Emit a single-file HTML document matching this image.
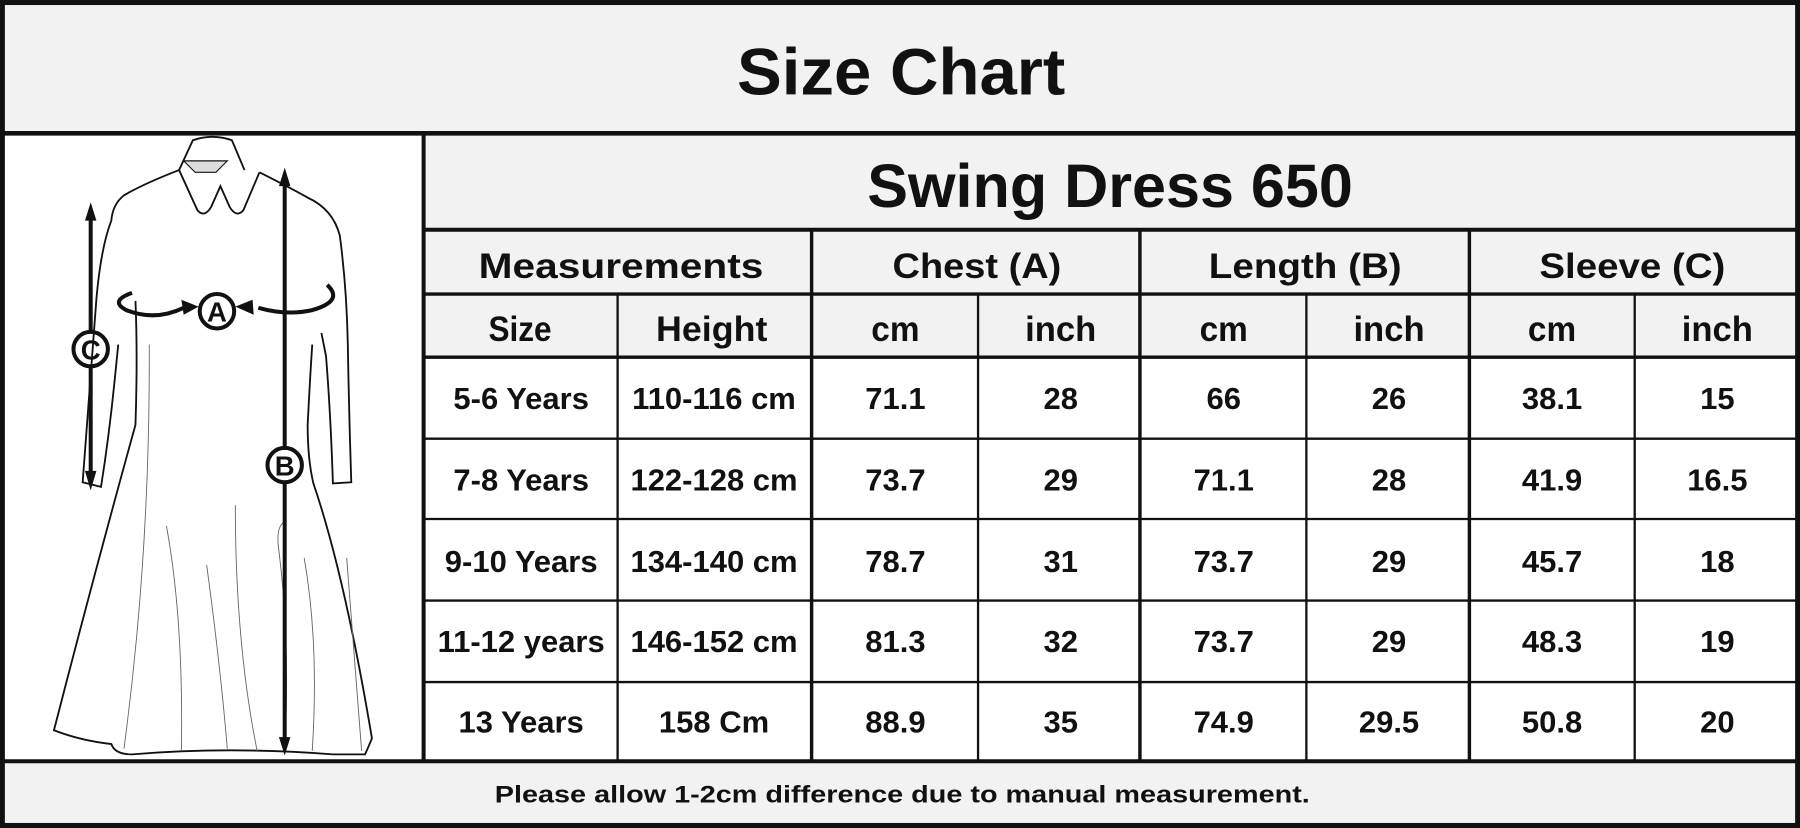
<!DOCTYPE html>
<html><head><meta charset="utf-8"><style>
html,body{margin:0;padding:0;background:#fff}
svg{display:block}
text{font-family:"Liberation Sans",Arial,sans-serif;font-weight:bold;fill:#111}
</style></head><body>
<svg width="1800" height="828" viewBox="0 0 1568 721" xmlns="http://www.w3.org/2000/svg">
<rect x="0" y="0" width="1568" height="721" fill="#fff"/>
<rect x="2" y="2" width="1564" height="114" fill="#f2f2f2"/>
<rect x="369" y="116" width="1197" height="195" fill="#f2f2f2"/>
<rect x="2" y="663" width="1564" height="56" fill="#f2f2f2"/>
<text x="785" y="82" font-size="57" text-anchor="middle" textLength="286" lengthAdjust="spacingAndGlyphs">Size Chart</text>
<text x="967" y="180" font-size="53" text-anchor="middle" textLength="423" lengthAdjust="spacingAndGlyphs">Swing Dress 650</text>
<g font-size="31" text-anchor="middle">
<text x="541" y="242" textLength="248" lengthAdjust="spacingAndGlyphs">Measurements</text>
<text x="851" y="242" textLength="147" lengthAdjust="spacingAndGlyphs">Chest (A)</text>
<text x="1137" y="242" textLength="168" lengthAdjust="spacingAndGlyphs">Length (B)</text>
<text x="1422" y="242" textLength="162" lengthAdjust="spacingAndGlyphs">Sleeve (C)</text>
<text x="453" y="297" textLength="55" lengthAdjust="spacingAndGlyphs">Size</text>
<text x="620" y="297" textLength="97" lengthAdjust="spacingAndGlyphs">Height</text>
<text x="780" y="297" textLength="42" lengthAdjust="spacingAndGlyphs">cm</text>
<text x="924" y="297" textLength="62" lengthAdjust="spacingAndGlyphs">inch</text>
<text x="1066" y="297" textLength="42" lengthAdjust="spacingAndGlyphs">cm</text>
<text x="1210" y="297" textLength="62" lengthAdjust="spacingAndGlyphs">inch</text>
<text x="1352" y="297" textLength="42" lengthAdjust="spacingAndGlyphs">cm</text>
<text x="1496" y="297" textLength="62" lengthAdjust="spacingAndGlyphs">inch</text>
</g>
<g font-size="27" text-anchor="middle">
<g transform="translate(0,356)"><text x="454">5-6 Years</text><text x="622">110-116 cm</text><text x="780">71.1</text><text x="924">28</text><text x="1066">66</text><text x="1210">26</text><text x="1352">38.1</text><text x="1496">15</text></g>
<g transform="translate(0,427)"><text x="454">7-8 Years</text><text x="622">122-128 cm</text><text x="780">73.7</text><text x="924">29</text><text x="1066">71.1</text><text x="1210">28</text><text x="1352">41.9</text><text x="1496">16.5</text></g>
<g transform="translate(0,498)"><text x="454">9-10 Years</text><text x="622">134-140 cm</text><text x="780">78.7</text><text x="924">31</text><text x="1066">73.7</text><text x="1210">29</text><text x="1352">45.7</text><text x="1496">18</text></g>
<g transform="translate(0,568)"><text x="454">11-12 years</text><text x="622">146-152 cm</text><text x="780">81.3</text><text x="924">32</text><text x="1066">73.7</text><text x="1210">29</text><text x="1352">48.3</text><text x="1496">19</text></g>
<g transform="translate(0,638)"><text x="454">13 Years</text><text x="622">158 Cm</text><text x="780">88.9</text><text x="924">35</text><text x="1066">74.9</text><text x="1210">29.5</text><text x="1352">50.8</text><text x="1496">20</text></g>
</g>
<text x="786" y="699" font-size="21" text-anchor="middle" textLength="710" lengthAdjust="spacingAndGlyphs">Please allow 1-2cm difference due to manual measurement.</text>
<g stroke="#111" fill="none">
<line x1="2" y1="116" x2="1566" y2="116" stroke-width="4"/>
<line x1="369" y1="116" x2="369" y2="663" stroke-width="3.5"/>
<line x1="369" y1="200" x2="1566" y2="200" stroke-width="3.5"/>
<line x1="369" y1="256" x2="1566" y2="256" stroke-width="3"/>
<line x1="369" y1="311" x2="1566" y2="311" stroke-width="3"/>
<line x1="369" y1="382" x2="1566" y2="382" stroke-width="2"/>
<line x1="369" y1="452" x2="1566" y2="452" stroke-width="2"/>
<line x1="369" y1="523" x2="1566" y2="523" stroke-width="2"/>
<line x1="369" y1="594" x2="1566" y2="594" stroke-width="2"/>
<line x1="2" y1="663" x2="1566" y2="663" stroke-width="3.5"/>
<line x1="707" y1="200" x2="707" y2="663" stroke-width="3"/>
<line x1="993" y1="200" x2="993" y2="663" stroke-width="3"/>
<line x1="1280" y1="200" x2="1280" y2="663" stroke-width="3"/>
<line x1="538" y1="256" x2="538" y2="663" stroke-width="2"/>
<line x1="852" y1="256" x2="852" y2="663" stroke-width="2"/>
<line x1="1138" y1="256" x2="1138" y2="663" stroke-width="2"/>
<line x1="1424" y1="256" x2="1424" y2="663" stroke-width="2"/>
<rect x="2" y="2" width="1564" height="717" stroke-width="4.5"/>
</g>
<!-- dress -->
<g stroke="#111" fill="none" stroke-width="1.6">
<!-- collar -->
<path d="M156,148 L168,122 Q185,116 202,122 L213,148"/>
<path d="M156,148 L172,183 Q178,190 184,180 L192,162 L200,180 Q206,190 212,183 L226,150"/>
<!-- left shoulder/sleeve -->
<path d="M156,148 Q125,160 108,170 Q98,178 97,192 Q88,215 84,260 Q78,340 72,420 L88,424 Q95,380 100,330 L103,300"/>
<!-- right shoulder/sleeve -->
<path d="M226,150 Q250,162 268,172 Q290,182 296,205 Q302,250 303,300 Q304,360 306,420 L290,421 Q288,360 284,310 L280,290"/>
<!-- body and skirt -->
<path d="M118,262 Q120,310 118,370 Q82,500 47,636 Q70,645 97,648 Q100,657 115,657 Q200,650 290,657 L318,657 Q322,648 324,643 Q300,500 273,421 Q268,400 268,370 Q270,330 272,300"/>
</g>
<g stroke="#666" fill="none" stroke-width="0.8">
<path d="M130,300 Q131,480 108,652"/>
<path d="M145,458 Q160,540 158,654"/>
<path d="M180,492 Q192,580 198,652"/>
<path d="M205,440 Q205,560 224,654"/>
<path d="M247,455 Q240,460 243,480 Q253,560 248,652"/>
<path d="M265,486 Q278,560 272,654"/>
<path d="M302,486 Q308,560 315,654"/>
</g>
<path d="M160,140 L198,140 L188,150 L170,150 Z" fill="#ddd" stroke="#111" stroke-width="1"/>
<!-- arrows -->
<g stroke="#111" fill="none" stroke-width="3.5">
<line x1="79" y1="190" x2="79" y2="289"/>
<line x1="79" y1="319" x2="79" y2="412"/>
<line x1="248" y1="158" x2="248" y2="389"/>
<line x1="248" y1="421" x2="248" y2="645"/>
<path d="M115,255 Q95,262 110,270 Q135,280 160,268"/>
<path d="M285,248 Q300,262 272,270 Q250,275 225,268"/>
<circle cx="79" cy="304" r="15"/>
<circle cx="189" cy="271" r="15"/>
<circle cx="248" cy="405" r="15"/>
</g>
<g fill="#111">
<polygon points="79,176 74,192 84,192"/>
<polygon points="79,427 74,410 84,410"/>
<polygon points="248,146 243,162 253,162"/>
<polygon points="248,658 243,642 253,642"/>
<polygon points="173,267 158,261 160,274"/>
<polygon points="205,267 220,261 221,274"/>
</g>
<g font-size="24" text-anchor="middle">
<text x="79" y="313">C</text><text x="189" y="280">A</text><text x="248" y="414">B</text>
</g>
</svg>
</body></html>
